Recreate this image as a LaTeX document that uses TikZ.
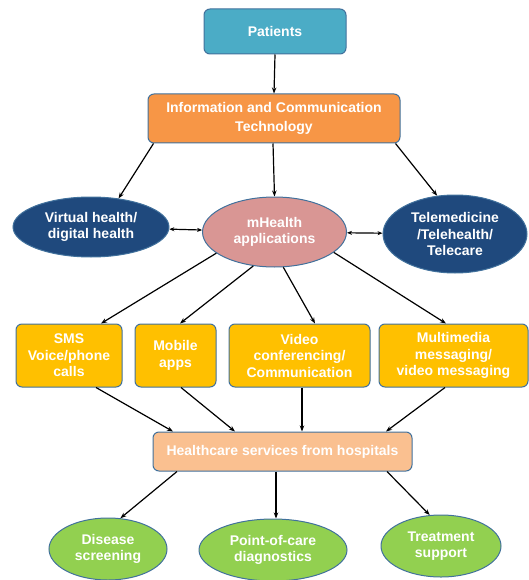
\documentclass[tikz,border=0pt]{standalone}
\usepackage{fontspec}
\setmainfont{Liberation Sans}
\usetikzlibrary{shapes.geometric,arrows.meta}
\definecolor{cteal}{HTML}{4BACC6}
\definecolor{corange}{HTML}{F79646}
\definecolor{cdark}{HTML}{1F497D}
\definecolor{cpink}{HTML}{D99694}
\definecolor{cyellow}{HTML}{FFC000}
\definecolor{cpeach}{HTML}{FAC090}
\definecolor{cgreen}{HTML}{92D050}
\definecolor{cline}{HTML}{41719C}
\tikzset{
  lbl/.style={text=white, font=\bfseries\fontsize{14}{16.5}\selectfont, align=center, inner sep=0pt},
  rbox/.style={lbl, draw=cline, line width=1pt, rounded corners=6pt},
  ell/.style={lbl, ellipse, draw=cline, line width=1pt},
  arr/.style={-{Stealth[length=6pt,width=4.5pt]}, line width=1.2pt, black},
  darr/.style={{Stealth[length=5pt,width=4pt]}-{Stealth[length=5pt,width=4pt]}, line width=1.2pt, black}
}
\begin{document}
\begin{tikzpicture}[x=1pt,y=-1pt]
\useasboundingbox (0,0) rectangle (529,580);
% row 1
\node[rbox, fill=cteal, minimum width=142pt, minimum height=45pt] (pat) at (275,31.5) {Patients};
\node[rbox, fill=corange, minimum width=252pt, minimum height=49pt, font=\bfseries\fontsize{14}{19}\selectfont] (ict) at (274,118.5) {Information and Communication\\Technology};
% ellipses
\node[ell, fill=cdark, minimum width=156pt, minimum height=60pt] (virt) at (91,227) {Virtual health/\\digital health};
\node[ell, fill=cpink, minimum width=144pt, minimum height=70pt] (mh) at (274.5,232) {mHealth\\applications};
\node[ell, fill=cdark, minimum width=144pt, minimum height=78pt] (tele) at (455,234) {Telemedicine\\/Telehealth/\\Telecare};
% yellow boxes
\node[rbox, fill=cyellow, minimum width=106pt, minimum height=63pt] (sms) at (69,355.5) {SMS\\Voice/phone\\calls};
\node[rbox, fill=cyellow, minimum width=81pt, minimum height=63pt] (mob) at (175.5,355.5) {Mobile\\apps};
\node[rbox, fill=cyellow, minimum width=141pt, minimum height=63pt] (vid) at (299.5,355.5) {Video\\conferencing/\\Communication};
\node[rbox, fill=cyellow, minimum width=149pt, minimum height=63pt] (mm) at (453.5,355.5) {Multimedia\\messaging/\\video messaging};
% healthcare
\node[rbox, fill=cpeach, minimum width=259pt, minimum height=39pt] (hc) at (282.5,451.5) {Healthcare services from hospitals};
% green
\node[ell, fill=cgreen, minimum width=118pt, minimum height=62pt] (dis) at (108,549) {Disease\\screening};
\node[ell, fill=cgreen, minimum width=148pt, minimum height=62pt] (poc) at (273,550) {Point-of-care\\diagnostics};
\node[ell, fill=cgreen, minimum width=120pt, minimum height=62pt] (trt) at (441,546) {Treatment\\support};
% arrows
\draw[arr] (pat.south) -- (ict.north);
\draw[arr] ([xshift=6pt]ict.south west) -- (virt.46);
\draw[arr] ([xshift=-1pt]ict.south) -- (mh.north);
\draw[arr] ([xshift=-5pt]ict.south east) -- (tele.115);
\draw[darr] (virt) -- (mh);
\draw[darr] (mh) -- (tele);
\draw[arr] (mh.200) -- ([xshift=32pt]sms.north);
\draw[arr] (mh.238) -- ([xshift=4.5pt]mob.north);
\draw[arr] (mh.284) -- ([xshift=15.5pt]vid.north);
\draw[arr] (mh.341) -- ([xshift=-7.5pt]mm.north);
\draw[arr] ([xshift=27pt]sms.south) -- ([xshift=-109.5pt]hc.north);
\draw[arr] ([xshift=5.5pt]mob.south) -- ([xshift=-47.5pt]hc.north);
\draw[arr] ([xshift=2.5pt]vid.south) -- ([xshift=19.5pt]hc.north);
\draw[arr] ([xshift=-8.5pt]mm.south) -- ([xshift=103.5pt]hc.north);
\draw[arr] ([xshift=-105.5pt]hc.south) -- (dis.68);
\draw[arr] ([xshift=-6.5pt]hc.south) -- ([xshift=3pt]poc.north);
\draw[arr] ([xshift=104.5pt]hc.south) -- (trt.110);
\end{tikzpicture}
\end{document}
